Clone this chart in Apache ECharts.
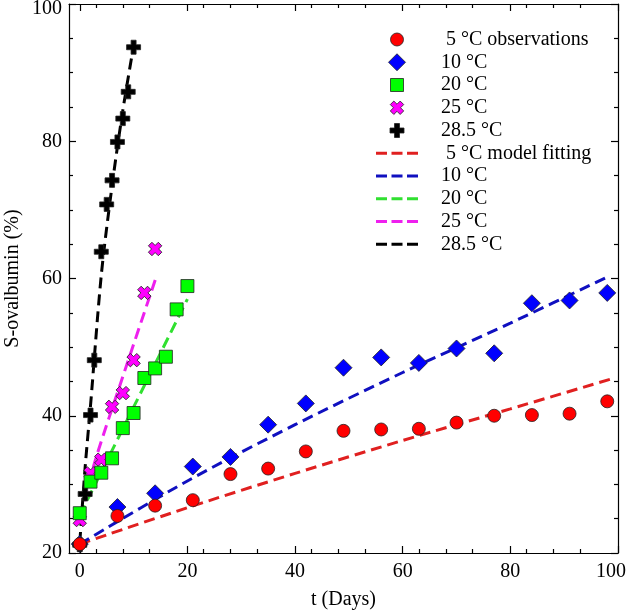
<!DOCTYPE html>
<html>
<head>
<meta charset="utf-8">
<script src="https://cdn.jsdelivr.net/npm/echarts@6/dist/echarts.min.js"></script>
<style>html,body{margin:0;padding:0;background:#fff;}#c{width:626px;height:612px;}</style>
</head>
<body>
<div id="c"></div>
<script>
// ---- data ----
var t5 = [0, 7, 14, 21, 28, 35, 42, 49, 56, 63, 70, 77, 84, 91, 98];
var obs5 = [21.3, 25.4, 26.9, 27.7, 31.5, 32.3, 34.8, 37.8, 38.0, 38.1, 39.0, 40.0, 40.1, 40.3, 42.1];
var t10 = [0, 7, 14, 21, 28, 35, 42, 49, 56, 63, 70, 77, 84, 91, 98];
var obs10 = [21.3, 26.7, 28.7, 32.6, 34.0, 38.7, 41.8, 47.0, 48.5, 47.7, 49.8, 49.1, 56.4, 56.8, 57.9];
var t20 = [0, 2, 4, 6, 8, 10, 12, 14, 16, 18, 20];
var obs20 = [25.8, 30.4, 31.7, 33.8, 38.2, 40.4, 45.5, 46.9, 48.6, 55.5, 58.9];
var t25 = [0, 2, 4, 6, 8, 10, 12, 14];
var obs25 = [24.8, 31.6, 33.6, 41.3, 43.3, 48.1, 57.9, 64.3];
var t285 = [0, 1, 2, 2.7, 4, 5, 6, 7, 8, 9, 10];
var obs285 = [21.2, 28.6, 40.1, 48.1, 63.9, 70.8, 74.3, 79.9, 83.3, 87.2, 93.7];

// model fitting curves (read at a few points)
var mt5 = [0, 20, 40, 60, 80, 98.5];
var m5 = [21.3, 26.6, 31.6, 36.4, 41.0, 45.3];
var mt10 = [0, 20, 40, 60, 80, 98.5];
var m10 = [21.3, 30.5, 38.7, 46.3, 53.5, 60.4];
var mt20 = [0, 20];
var m20 = [25.5, 57.0];
var mt25 = [0, 3, 8, 14.2];
var m25 = [25.2, 33.8, 45.7, 60.2];
var mt285 = [0, 1, 2, 4, 6, 8, 10];
var m285 = [21.5, 32.5, 41.5, 60.5, 73.5, 84.5, 93.9];

var xTicks = [0, 20, 40, 60, 80, 100];
var yTicks = [20, 40, 60, 80, 100];

var legendLabels = ['5 °C observations', '10 °C', '20 °C', '25 °C', '28.5 °C',
                    '5 °C model fitting', '10 °C', '20 °C', '25 °C', '28.5 °C'];

function pairs(xs, ys) { return xs.map(function (x, i) { return [x, ys[i]]; }); }

var FONT = 'Liberation Serif';
var PLUS = 'path://M-2.5,-7h5v4.5h4.5v5h-4.5v4.5h-5v-4.5h-4.5v-5h4.5z';

var COL = {
  red: '#ff0000', blue: '#0000ff', green: '#00ff00', mag: '#ff00ff', blk: '#000000',
  lred: '#e02020', lblue: '#1010c0', lgreen: '#30e030', lmag: '#ee20ee', lblk: '#000000'
};

var chart = echarts.init(document.getElementById('c'), null, { renderer: 'canvas' });

function scatter(name, data, symbol, size, color, z, rot) {
  return {
    type: 'scatter', name: name, data: data, symbol: symbol, symbolSize: size,
    symbolRotate: rot || 0, z: z,
    itemStyle: { color: color, borderColor: '#222', borderWidth: 0.8, opacity: 1 }
  };
}
function line(name, data, color) {
  return {
    type: 'line', name: name, data: data, showSymbol: false, symbol: 'none', z: 2,
    smooth: 0.3,
    lineStyle: { color: color, width: 3, type: [11, 6] },
    itemStyle: { color: color }
  };
}

// ---- legend drawn as graphics ----
function plusPoints(cx, cy, s, a, rot) {
  var pts = [[-a,-s],[a,-s],[a,-a],[s,-a],[s,a],[a,a],[a,s],[-a,s],[-a,a],[-s,a],[-s,-a],[-a,-a]];
  var c = Math.cos(rot), sn = Math.sin(rot);
  return pts.map(function (p) { return [cx + p[0]*c - p[1]*sn, cy + p[0]*sn + p[1]*c]; });
}
var LX = 397, LY0 = 39.5, LDY = 22.75;
var graphics = [];
var y0 = LY0;
graphics.push({ type: 'circle', shape: { cx: LX, cy: y0, r: 6.5 }, style: { fill: COL.red, stroke: '#222', lineWidth: 0.8 } });
var y1 = LY0 + LDY;
graphics.push({ type: 'polygon', shape: { points: [[LX, y1-8.5],[LX+8.5, y1],[LX, y1+8.5],[LX-8.5, y1]] }, style: { fill: COL.blue, stroke: '#222', lineWidth: 0.8 } });
var y2 = LY0 + 2*LDY;
graphics.push({ type: 'rect', shape: { x: LX-6.5, y: y2-6.5, width: 13, height: 13 }, style: { fill: COL.green, stroke: '#222', lineWidth: 0.8 } });
var y3 = LY0 + 3*LDY;
graphics.push({ type: 'polygon', shape: { points: plusPoints(LX, y3, 7, 2.5, Math.PI/4) }, style: { fill: COL.mag, stroke: '#222', lineWidth: 0.8 } });
var y4 = LY0 + 4*LDY;
graphics.push({ type: 'polygon', shape: { points: plusPoints(LX, y4, 7, 2.5, 0) }, style: { fill: COL.blk, stroke: '#222', lineWidth: 0.8 } });
var lineCols = [COL.lred, COL.lblue, COL.lgreen, COL.lmag, COL.lblk];
for (var k = 0; k < 5; k++) {
  var yy = LY0 + (5 + k) * LDY;
  graphics.push({ type: 'line', shape: { x1: 376, y1: yy, x2: 418, y2: yy },
    style: { stroke: lineCols[k], lineWidth: 3, lineDash: [11, 4.5] } });
}
legendLabels.forEach(function (lab, i) {
  var x = (i === 0 || i === 5) ? 446 : 441;
  graphics.push({ type: 'text', x: x, y: LY0 + i * LDY,
    style: { text: lab, fill: '#000', font: '20px "Liberation Serif"', verticalAlign: 'middle', align: 'left' } });
});

var axisLineStyle = { color: '#000', width: 1.2 };

var option = {
  animation: false,
  backgroundColor: '#fff',
  grid: { left: 69, right: 8, top: 4, bottom: 59, containLabel: false, outerBoundsMode: 'none' },
  xAxis: [{
    type: 'value', min: -2, max: 100, interval: 20,
    axisLine: { show: true, onZero: false, lineStyle: axisLineStyle },
    axisTick: { show: true, inside: true, length: 7, lineStyle: axisLineStyle, customValues: xTicks },
    minorTick: { show: true, splitNumber: 4, length: 4, lineStyle: axisLineStyle },
    splitLine: { show: false },
    axisLabel: {
      customValues: xTicks, fontFamily: FONT, fontSize: 20, color: '#000', margin: 9,
      formatter: function (v) { return v === 100 ? '{r|100}' : String(v); },
      rich: { r: { fontFamily: FONT, fontSize: 20, color: '#000', padding: [0, 14, 0, 0] } }
    },
    name: 't (Days)', nameLocation: 'middle', nameGap: 37, nameMoveOverlap: false,
    nameTextStyle: { fontFamily: FONT, fontSize: 20, color: '#000' }
  }, {
    type: 'value', min: -2, max: 100, interval: 20, position: 'top',
    axisLine: { show: true, onZero: false, lineStyle: axisLineStyle },
    axisTick: { show: true, inside: true, length: 7, lineStyle: axisLineStyle, customValues: xTicks },
    minorTick: { show: true, splitNumber: 4, length: 4, lineStyle: axisLineStyle },
    splitLine: { show: false }, axisLabel: { show: false }
  }],
  yAxis: [{
    type: 'value', min: 20, max: 100, interval: 20,
    axisLine: { show: true, onZero: false, lineStyle: axisLineStyle },
    axisTick: { show: true, inside: true, length: 7, lineStyle: axisLineStyle },
    minorTick: { show: true, splitNumber: 4, length: 4, lineStyle: axisLineStyle },
    splitLine: { show: false },
    axisLabel: {
      customValues: yTicks, fontFamily: FONT, fontSize: 20, color: '#000', margin: 7,
      formatter: function (v) { return v === 100 ? '{t|100}' : String(v); },
      rich: { t: { fontFamily: FONT, fontSize: 20, color: '#000', padding: [10, 0, 0, 0] } }
    },
    name: 'S-ovalbumin (%)', nameLocation: 'middle', nameGap: 46, nameMoveOverlap: false,
    nameTextStyle: { fontFamily: FONT, fontSize: 20, color: '#000' }
  }, {
    type: 'value', min: 20, max: 100, interval: 20, position: 'right',
    axisLine: { show: true, onZero: false, lineStyle: axisLineStyle },
    axisTick: { show: true, inside: true, length: 7, lineStyle: axisLineStyle },
    minorTick: { show: true, splitNumber: 4, length: 4, lineStyle: axisLineStyle },
    splitLine: { show: false }, axisLabel: { show: false }
  }],
  graphic: graphics,
  series: [
    line('5 °C model fitting', pairs(mt5, m5), COL.lred),
    line('10 °C model', pairs(mt10, m10), COL.lblue),
    line('20 °C model', pairs(mt20, m20), COL.lgreen),
    line('25 °C model', pairs(mt25, m25), COL.lmag),
    line('28.5 °C model', pairs(mt285, m285), COL.lblk),
    scatter('5 °C observations', pairs(t5, obs5), 'circle', 13, COL.red, 6),
    scatter('10 °C', pairs(t10, obs10), 'diamond', 17, COL.blue, 5),
    scatter('20 °C', pairs(t20, obs20), 'rect', 13, COL.green, 6),
    scatter('25 °C', pairs(t25, obs25), PLUS, 14, COL.mag, 5, 45),
    scatter('28.5 °C', pairs(t285, obs285), PLUS, 14, COL.blk, 5)
  ]
};
chart.setOption(option);
</script>
</body>
</html>
